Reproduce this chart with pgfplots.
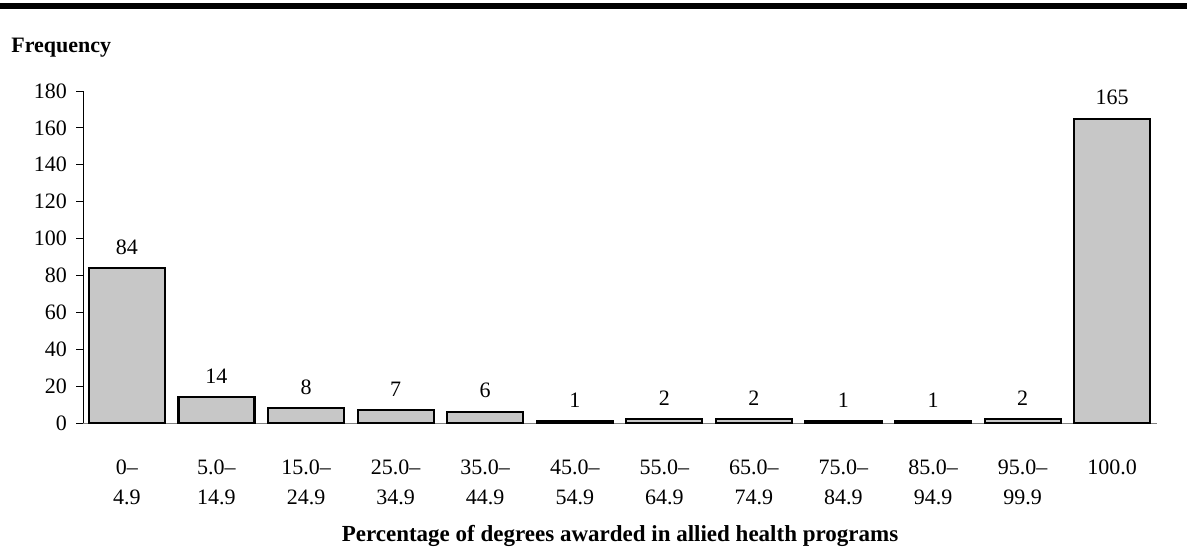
\documentclass[border=0pt]{standalone}
\usepackage{fontspec}
\setmainfont{Liberation Serif}
\usepackage{pgfplots}
\pgfplotsset{compat=1.18}

\pgfplotstableread{
x y
0 84
1 14
2 8
3 7
4 6
5 1
6 2
7 2
8 1
9 1
10 2
11 165
}\freqdata

\begin{document}
\begin{tikzpicture}
\useasboundingbox (0,0) rectangle (593.5pt,-276.5pt);
% heavy rule along the top
\draw[line width=2.8pt] (0,-3pt) -- (593.5pt,-3pt);
\node[anchor=west, inner sep=0pt, font=\fontsize{11}{13}\selectfont\bfseries] at (5.5pt,-24pt) {Frequency};
\node[font=\fontsize{11.5}{13}\selectfont\bfseries] at (310pt,-268pt)
  {Percentage of degrees awarded in allied health programs};

\begin{axis}[
    at={(41.5pt,-211.5pt)}, anchor=south west,
    scale only axis,
    width=537pt, height=166pt,
    xmin=-0.49, xmax=11.5,
    ymin=0, ymax=180,
    ytick={0,20,...,180},
    xtick=data,
    xticklabels={{0--\\4.9},{5.0--\\14.9},{15.0--\\24.9},{25.0--\\34.9},{35.0--\\44.9},
                 {45.0--\\54.9},{55.0--\\64.9},{65.0--\\74.9},{75.0--\\84.9},{85.0--\\94.9},
                 {95.0--\\99.9},{100.0}},
    axis x line=bottom, axis y line=left,
    x axis line style={-, draw=gray, line width=0.5pt},
    y axis line style={-, draw=black, line width=0.5pt},
    xtick style={draw=none},
    ytick style={draw=black, line width=0.5pt},
    tick align=outside, major tick length=3.5pt,
    yticklabel style={xshift=-1pt},
    xticklabel style={align=center, yshift=-11.5pt, font=\fontsize{11}{15}\selectfont},
    yticklabel style={font=\fontsize{11}{13}\selectfont},
    /pgf/number format/assume math mode=true,
    tick label style={font=\fontsize{11}{15}\selectfont},
    ybar, bar width=38pt,
    nodes near coords,
    every node near coord/.append style={font=\fontsize{11}{13}\selectfont, yshift=3pt},
    clip=false,
]
\addplot[draw=black, line width=1.1pt, fill=black!22] table[x=x, y=y] {\freqdata};
\end{axis}
\end{tikzpicture}
\end{document}
